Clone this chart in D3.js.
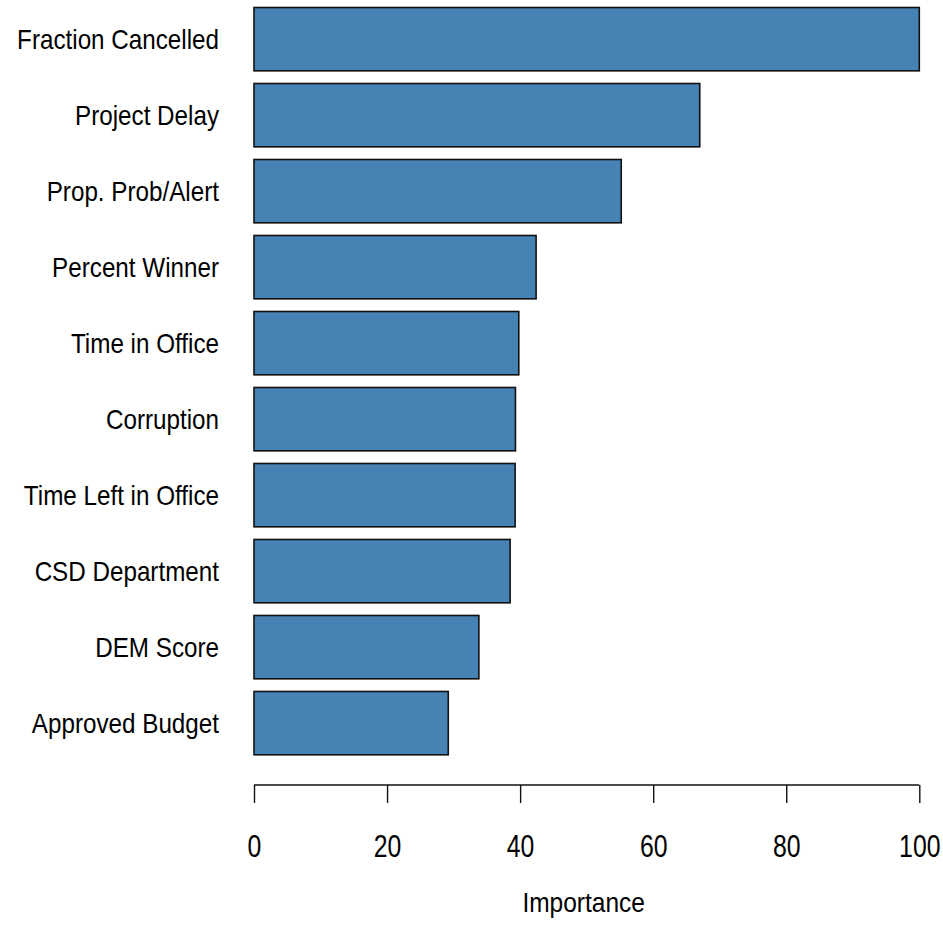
<!DOCTYPE html>
<html>
<head>
<meta charset="utf-8">
<script src="https://cdn.jsdelivr.net/npm/d3@7"></script>
<style>
  html, body { margin: 0; padding: 0; background: #fff; }
  svg { display: block; }
  text { font-family: "Liberation Sans", Arial, Helvetica, sans-serif; fill: #000; }
</style>
</head>
<body>
<svg id="chart" width="943" height="927"></svg>
<script>
const categories = ["Fraction Cancelled", "Project Delay", "Prop. Prob/Alert", "Percent Winner",
  "Time in Office", "Corruption", "Time Left in Office", "CSD Department", "DEM Score", "Approved Budget"];
const importance = [100, 67.0, 55.2, 42.4, 39.8, 39.3, 39.25, 38.5, 33.8, 29.2];
const xTicks = [0, 20, 40, 60, 80, 100];
const xTitle = "Importance";

const svg = d3.select("#chart");

const x = d3.scaleLinear().domain([0, 100]).range([254, 919.3]);
const y = d3.scaleBand().domain(categories).range([7.5, 754.8]).paddingInner(0.2 / 1.2).paddingOuter(0);

// bars
svg.append("g").selectAll("rect").data(categories).join("rect")
  .attr("x", x(0))
  .attr("y", d => y(d))
  .attr("width", (d, i) => x(importance[i]) - x(0))
  .attr("height", y.bandwidth())
  .attr("fill", "#4682B4")
  .attr("stroke", "#111")
  .attr("stroke-width", 1.6);

// category labels
svg.append("g").selectAll("text").data(categories).join("text")
  .attr("transform", d => `translate(219,${y(d) + y.bandwidth() / 2}) scale(0.85,1)`)
  .attr("dy", "0.35em")
  .attr("text-anchor", "end")
  .style("font-size", "28.5px")
  .text(d => d);

// x axis
const axisY = 785;
const axis = d3.axisBottom(x).tickValues(xTicks).tickSize(18).tickPadding(0).tickFormat(d3.format("d"));
const gAxis = svg.append("g").attr("transform", `translate(0,${axisY})`).call(axis);
gAxis.select(".domain").attr("stroke", "#111").attr("stroke-width", 1.4).attr("d", `M${x(0)},0H${x(100)}`);
gAxis.selectAll(".tick line").attr("stroke", "#111").attr("stroke-width", 1.4);
gAxis.selectAll(".tick text")
  .attr("y", 0).attr("dy", 0)
  .attr("transform", "translate(0,72) scale(0.8,1)")
  .style("font-size", "31px")
  .style("font-family", "'Liberation Sans', Arial, sans-serif")
  .attr("fill", "#000");

// x title
svg.append("text")
  .attr("transform", `translate(${(x(0) + x(100)) / 2 - 3},912) scale(0.86,1)`)
  .attr("text-anchor", "middle")
  .style("font-size", "28.5px")
  .text(xTitle);
</script>
</body>
</html>
